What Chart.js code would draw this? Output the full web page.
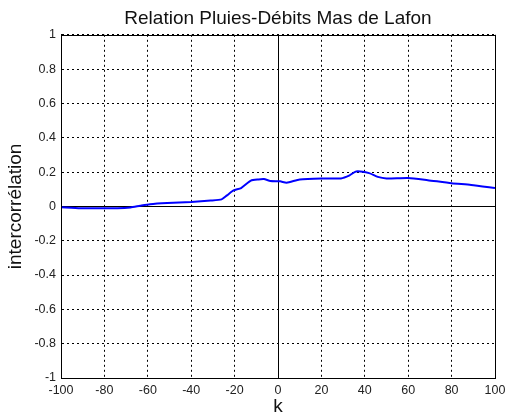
<!DOCTYPE html>
<html lang="fr">
<head>
    <meta charset="UTF-8">
    <title>Relation Pluies-Débits Mas de Lafon</title>
    <script src="https://cdn.jsdelivr.net/npm/chart.js"></script>
    <style>
        body { margin: 0; background: #fff; }
    </style>
</head>
<body>
    <canvas id="chart" width="507" height="418"></canvas>
    <script>
        // Décalages k et intercorrélation
        const lags = [-100, -91, -80, -74, -68, -63.5, -59, -51, -40, -31, -26, -23.5, -20.5, -17, -12.5, -9, -6.5, -3.5, 1, 4, 10, 20, 29, 33, 36, 42, 46, 50, 60, 69, 80, 89, 100];
        const xcorr = [-0.005, -0.011, -0.011, -0.011, -0.006, 0.004, 0.013, 0.02, 0.026, 0.034, 0.041, 0.064, 0.093, 0.107, 0.15, 0.157, 0.159, 0.148, 0.146, 0.138, 0.157, 0.163, 0.163, 0.181, 0.204, 0.194, 0.172, 0.163, 0.166, 0.153, 0.135, 0.125, 0.107];

        const xTicks = [-100, -80, -60, -40, -20, 0, 20, 40, 60, 80, 100];
        const yTicks = [-1, -0.8, -0.6, -0.4, -0.2, 0, 0.2, 0.4, 0.6, 0.8, 1];

        // axes x=0 et y=0 en trait plein, comme dans MATLAB
        const zeroLines = {
            id: 'zeroLines',
            beforeDatasetsDraw(chart) {
                const { ctx, chartArea: a, scales: { x, y } } = chart;
                ctx.save();
                ctx.strokeStyle = '#000';
                ctx.lineWidth = 1;
                ctx.beginPath();
                const px = Math.round(x.getPixelForValue(0)) + 0.5;
                const py = Math.round(y.getPixelForValue(0)) + 0.5;
                ctx.moveTo(px, a.top); ctx.lineTo(px, a.bottom);
                ctx.moveTo(a.left, py); ctx.lineTo(a.right, py);
                ctx.stroke();
                ctx.restore();
            }
        };

        const tickFont = { family: 'Arial, "Liberation Sans", sans-serif', size: 12.5 };
        const gridColor = c => (c.tick && c.tick.value === 0) ? 'rgba(0,0,0,0)' : '#000';

        new Chart(document.getElementById('chart'), {
            type: 'line',
            data: {
                datasets: [{
                    data: lags.map((k, i) => ({ x: k, y: xcorr[i] })),
                    borderColor: '#0000ff',
                    borderWidth: 2,
                    pointRadius: 0,
                    tension: 0.2,
                    fill: false
                }]
            },
            options: {
                responsive: false,
                animation: false,
                layout: { padding: { left: 4, right: 12, top: 0, bottom: 0 } },
                plugins: {
                    legend: { display: false },
                    tooltip: { enabled: false },
                    title: {
                        display: true,
                        fullSize: false,
                        text: 'Relation Pluies-Débits Mas de Lafon',
                        color: '#111',
                        font: { family: 'Arial, "Liberation Sans", sans-serif', size: 19, weight: 'normal' },
                        padding: { top: 7, bottom: 5 }
                    }
                },
                scales: {
                    x: {
                        type: 'linear',
                        min: -100,
                        max: 100,
                        afterBuildTicks: s => { s.ticks = xTicks.map(v => ({ value: v })); },
                        afterFit: s => { s.height = 40; s.paddingRight = 0; s.paddingLeft = 0; },
                        ticks: { color: '#222', font: tickFont, padding: 5, maxRotation: 0 },
                        grid: { color: gridColor, drawTicks: false, lineWidth: 1 },
                        border: { display: true, color: '#000', dash: [2, 3] },
                        title: {
                            display: true,
                            text: 'k',
                            color: '#111',
                            font: { family: 'Arial, "Liberation Sans", sans-serif', size: 19 },
                            padding: { top: 0, bottom: 0 }
                        }
                    },
                    y: {
                        min: -1,
                        max: 1,
                        afterBuildTicks: s => { s.ticks = yTicks.map(v => ({ value: v })); },
                        afterFit: s => { s.width = 57; },
                        ticks: { color: '#222', font: tickFont, padding: 5, callback: v => String(+v.toFixed(1)) },
                        grid: { color: gridColor, drawTicks: false, lineWidth: 1 },
                        border: { display: true, color: '#000', dash: [2, 3] },
                        title: {
                            display: true,
                            text: 'intercorrélation',
                            color: '#111',
                            font: { family: 'Arial, "Liberation Sans", sans-serif', size: 19 },
                            padding: { top: 0, bottom: 2 }
                        }
                    }
                }
            },
            plugins: [zeroLines, {
                id: 'frame',
                afterDatasetsDraw(chart) {
                    const { ctx, chartArea: a } = chart;
                    ctx.save();
                    ctx.strokeStyle = '#000';
                    ctx.lineWidth = 1;
                    ctx.strokeRect(Math.round(a.left) + 0.5, Math.round(a.top) + 0.5, Math.round(a.right - a.left), Math.round(a.bottom - a.top));
                    ctx.restore();
                }
            }]
        });
    </script>
</body>
</html>
